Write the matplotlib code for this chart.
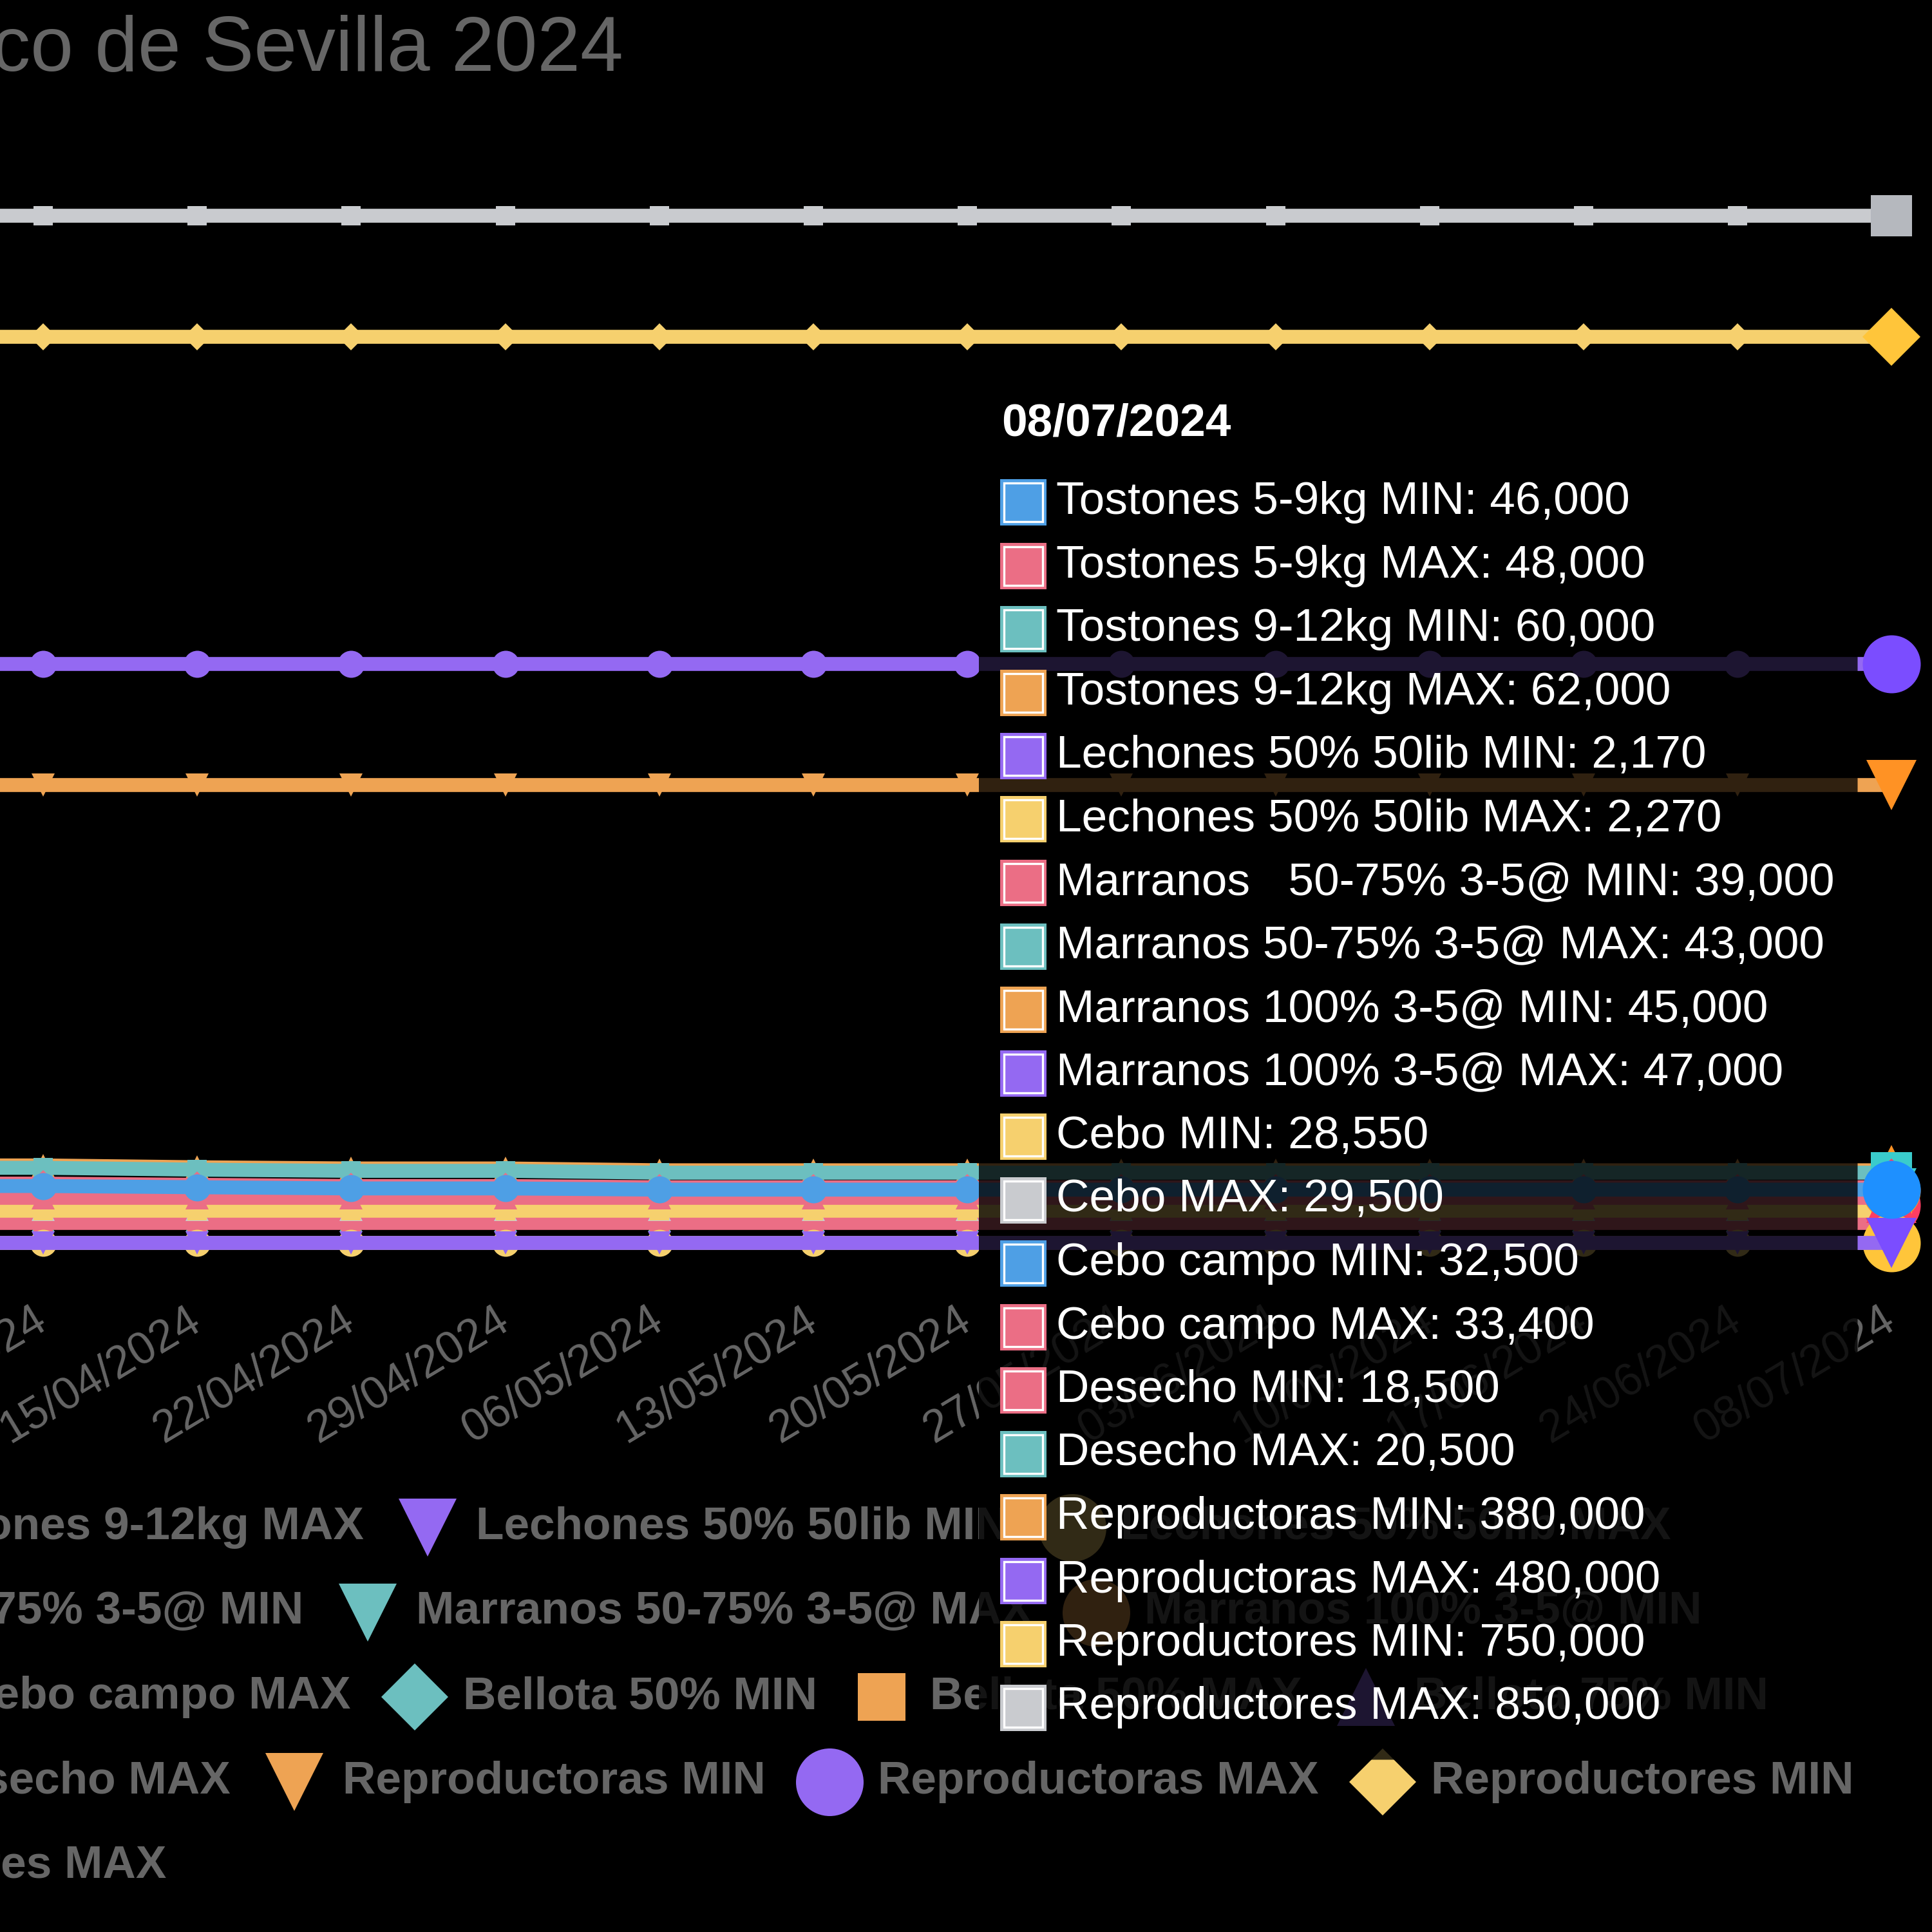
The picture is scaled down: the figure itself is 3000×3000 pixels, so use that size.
import matplotlib.pyplot as plt
from matplotlib.lines import Line2D
from matplotlib.patches import FancyBboxPatch, Rectangle

plt.rcParams['font.family'] = ['Liberation Sans', 'DejaVu Sans']

# ---- data -------------------------------------------------------------
dates = ['01/04/2024', '08/04/2024', '15/04/2024', '22/04/2024', '29/04/2024',
         '06/05/2024', '13/05/2024', '20/05/2024', '27/05/2024', '03/06/2024',
         '10/06/2024', '17/06/2024', '24/06/2024', '08/07/2024']

labels = ['Tostones 5-9kg MIN', 'Tostones 5-9kg MAX',
          'Tostones 9-12kg MIN', 'Tostones 9-12kg MAX',
          'Lechones 50% 50lib MIN', 'Lechones 50% 50lib MAX',
          'Marranos   50-75% 1-3@ MIN', 'Marranos   50-75% 1-3@ MAX',
          'Marranos   50-75% 3-5@ MIN', 'Marranos 50-75% 3-5@ MAX',
          'Marranos 100% 3-5@ MIN', 'Marranos 100% 3-5@ MAX',
          'Cebo MIN', 'Cebo MAX', 'Cebo campo MIN', 'Cebo campo MAX',
          'Bellota 50% MIN', 'Bellota 50% MAX', 'Bellota 75% MIN', 'Bellota 75% MAX',
          'Bellota 100% MIN', 'Bellota 100% MAX', 'Desecho MIN', 'Desecho MAX',
          'Reproductoras MIN', 'Reproductoras MAX', 'Reproductores MIN', 'Reproductores MAX']

tostones_5_9_min = [49000, 49000, 48000, 47000, 47000, 46000, 46000, 46000, 46000, 46000, 46000, 46000, 46000, 46000]
tostones_5_9_max = [51000, 51000, 50000, 49000, 49000, 48000, 48000, 48000, 48000, 48000, 48000, 48000, 48000, 48000]
tostones_9_12_min = [64000, 64000, 62500, 61500, 61500, 60000, 60000, 60000, 60000, 60000, 60000, 60000, 60000, 60000]
tostones_9_12_max = [66000, 66000, 64500, 63500, 63500, 62000, 62000, 62000, 62000, 62000, 62000, 62000, 62000, 62000]
lechones_min = [2170, 2170, 2170, 2170, 2170, 2170, 2170, 2170, 2170, 2170, 2170, 2170, 2170, 2170]
lechones_max = [2270, 2270, 2270, 2270, 2270, 2270, 2270, 2270, 2270, 2270, 2270, 2270, 2270, 2270]
marranos_1_3_min = [None] * 14
marranos_1_3_max = [None] * 14
marranos_50_min = [39000, 39000, 39000, 39000, 39000, 39000, 39000, 39000, 39000, 39000, 39000, 39000, 39000, 39000]
marranos_50_max = [43000, 43000, 43000, 43000, 43000, 43000, 43000, 43000, 43000, 43000, 43000, 43000, 43000, 43000]
marranos_100_min = [45000, 45000, 45000, 45000, 45000, 45000, 45000, 45000, 45000, 45000, 45000, 45000, 45000, 45000]
marranos_100_max = [47000, 47000, 47000, 47000, 47000, 47000, 47000, 47000, 47000, 47000, 47000, 47000, 47000, 47000]
cebo_min = [28550, 28550, 28550, 28550, 28550, 28550, 28550, 28550, 28550, 28550, 28550, 28550, 28550, 28550]
cebo_max = [29500, 29500, 29500, 29500, 29500, 29500, 29500, 29500, 29500, 29500, 29500, 29500, 29500, 29500]
cebo_campo_min = [32500, 32500, 32500, 32500, 32500, 32500, 32500, 32500, 32500, 32500, 32500, 32500, 32500, 32500]
cebo_campo_max = [33400, 33400, 33400, 33400, 33400, 33400, 33400, 33400, 33400, 33400, 33400, 33400, 33400, 33400]
bellota_50_min = [None] * 14
bellota_50_max = [None] * 14
bellota_75_min = [None] * 14
bellota_75_max = [None] * 14
bellota_100_min = [None] * 14
bellota_100_max = [None] * 14
desecho_min = [18500, 18500, 18500, 18500, 18500, 18500, 18500, 18500, 18500, 18500, 18500, 18500, 18500, 18500]
desecho_max = [20500, 20500, 20500, 20500, 20500, 20500, 20500, 20500, 20500, 20500, 20500, 20500, 20500, 20500]
reproductoras_min = [380000, 380000, 380000, 380000, 380000, 380000, 380000, 380000, 380000, 380000, 380000, 380000, 380000, 380000]
reproductoras_max = [480000, 480000, 480000, 480000, 480000, 480000, 480000, 480000, 480000, 480000, 480000, 480000, 480000, 480000]
reproductores_min = [750000, 750000, 750000, 750000, 750000, 750000, 750000, 750000, 750000, 750000, 750000, 750000, 750000, 750000]
reproductores_max = [850000, 850000, 850000, 850000, 850000, 850000, 850000, 850000, 850000, 850000, 850000, 850000, 850000, 850000]

values = [tostones_5_9_min, tostones_5_9_max, tostones_9_12_min, tostones_9_12_max,
          lechones_min, lechones_max, marranos_1_3_min, marranos_1_3_max,
          marranos_50_min, marranos_50_max, marranos_100_min, marranos_100_max,
          cebo_min, cebo_max, cebo_campo_min, cebo_campo_max,
          bellota_50_min, bellota_50_max, bellota_75_min, bellota_75_max,
          bellota_100_min, bellota_100_max, desecho_min, desecho_max,
          reproductoras_min, reproductoras_max, reproductores_min, reproductores_max]

title = 'Precios Porcino Ibérico de Sevilla 2024'

# ---- style ------------------------------------------------------------
palette = ['#4E9FE5', '#EB6E85', '#6CBFBF', '#EEA353', '#9469F2', '#F6D06E', '#C9CBCF']
hover_palette = ['#1E90FF', '#FF3D62', '#3ACBCB', '#FF9224', '#7B4DFF', '#FFC53A', '#B5B8BE']
shapes = ['o', 'D', 's', '^', 'v']
GREY = '#666666'

W = H = 3000
PT = 72 / 300          # points per pixel


def msize(shape, r):
    # chart.js style point radius -> matplotlib markersize (points)
    k = {'o': 2.0, 's': 1.414, 'D': 1.414, '^': 1.732, 'v': 1.732}[shape]
    return k * r * PT


def fx(px):
    return px / W


def fy(px):
    return 1 - px / H


# layout in pixels
X0, DX = 67, 239.2            # x pixel of 08/04 and spacing between weeks
Y_ZERO, PX_PER_UNIT = 1933.8, 1.881 / 1000
YMIN, YMAX = -20000, 900000

fig = plt.figure(figsize=(10, 10), dpi=300, facecolor='black')
bot_px = Y_ZERO - YMIN * PX_PER_UNIT
top_px = Y_ZERO - YMAX * PX_PER_UNIT
ax = fig.add_axes([0, fy(bot_px), 1, (bot_px - top_px) / H])
ax.set_facecolor('black')

n = len(dates)
idx = list(range(n))
for i, (lab, vals) in enumerate(zip(labels, values)):
    if vals[-1] is None:
        continue
    col = palette[i % 7]
    shp = shapes[i % 5]
    z = 100 - i
    ax.plot(idx, vals, color=col, lw=5.2, marker=shp, ms=msize(shp, 21),
            mfc=col, mec=col, mew=0, zorder=z, clip_on=False, solid_joinstyle='round')
    ax.plot([idx[-1]], [vals[-1]], linestyle='none', marker=shp, ms=msize(shp, 45),
            mfc=hover_palette[i % 7], mec=hover_palette[i % 7], mew=0,
            zorder=z + 0.5, clip_on=False)

ax.set_xticks(idx)
ax.set_xticklabels(dates, rotation=31, ha='right', va='center', rotation_mode='anchor')
ax.tick_params(axis='x', length=0, pad=17.7, labelsize=16.8, labelcolor=GREY)
ax.set_yticks([])
for s in ax.spines.values():
    s.set_visible(False)
# limits after the ticks, so the ticks do not widen the view
xmin = 1 - X0 / DX
ax.set_xlim(xmin, xmin + W / DX)
ax.set_ylim(YMIN, YMAX)

# title
fig.text(fx(968), fy(110), title, ha='right', va='baseline', fontsize=28.8, color=GREY)

# legend, rows centred on the canvas centre (off to the left of this crop)
renderer = fig.canvas.get_renderer()
legend_rows = [list(range(0, 6)), list(range(6, 11)), list(range(11, 19)),
               list(range(19, 27)), [27]]
CENTER, BOX_W, GAP, PAD = -148, 105, 22.5, 47
LEG_Y0, LEG_DY = 2372, 131.5
for r, row in enumerate(legend_rows):
    y = fy(LEG_Y0 + r * LEG_DY)
    texts = [fig.text(0, y, labels[i], fontsize=17.1, fontweight='bold', color=GREY,
                      va='center', ha='left', zorder=2) for i in row]
    widths = [t.get_window_extent(renderer).width for t in texts]
    total = sum(BOX_W + GAP + w for w in widths) + PAD * (len(row) - 1)
    x = CENTER - total / 2
    for i, t, w in zip(row, texts, widths):
        shp = shapes[i % 5]
        fig.add_artist(Line2D([fx(x + BOX_W / 2)], [y], transform=fig.transFigure,
                              linestyle='none', marker=shp, ms=msize(shp, 52.5),
                              mfc=palette[i % 7], mew=0, zorder=2))
        t.set_x(fx(x + BOX_W + GAP))
        x += BOX_W + GAP + w + PAD

# tooltip for the last date
tip = [(i, v[-1]) for i, v in enumerate(values) if v[-1] is not None]
TIP_X, TIP_Y, TIP_PAD = 1520, 586, 36
ROW0, ROW_H, SW = 780, 98.5, 72
tip_texts = []
for k, (i, v) in enumerate(tip):
    cy = ROW0 + k * ROW_H
    t = fig.text(fx(1640), fy(cy), f'{labels[i]}: {v:,}', fontsize=17.1, color='white',
                 va='center', ha='left', zorder=7)
    tip_texts.append(t)
    col = palette[i % 7]
    fig.add_artist(Rectangle((fx(1553), fy(cy + SW / 2)), SW / W, SW / H,
                             transform=fig.transFigure, fc=col, ec='none', zorder=7))
    fig.add_artist(Rectangle((fx(1559), fy(cy + SW / 2 - 6)), (SW - 12) / W, (SW - 12) / H,
                             transform=fig.transFigure, fc=col, ec='white', lw=0.8, zorder=7))
fig.text(fx(1555), fy(676), dates[-1], fontsize=17.1, fontweight='bold', color='white',
         va='baseline', ha='left', zorder=7)
tw = max(t.get_window_extent(renderer).x1 for t in tip_texts)
tip_right = tw + TIP_PAD
tip_bottom = ROW0 + (len(tip) - 1) * ROW_H + 81
fig.add_artist(FancyBboxPatch((fx(TIP_X), fy(tip_bottom)), (tip_right - TIP_X) / W,
                              (tip_bottom - TIP_Y) / H, transform=fig.transFigure,
                              boxstyle='round,pad=0,rounding_size=0.012',
                              fc=(0, 0, 0, 0.8), ec='none', zorder=6))

fig.savefig('out.png', dpi=300, facecolor='black')
